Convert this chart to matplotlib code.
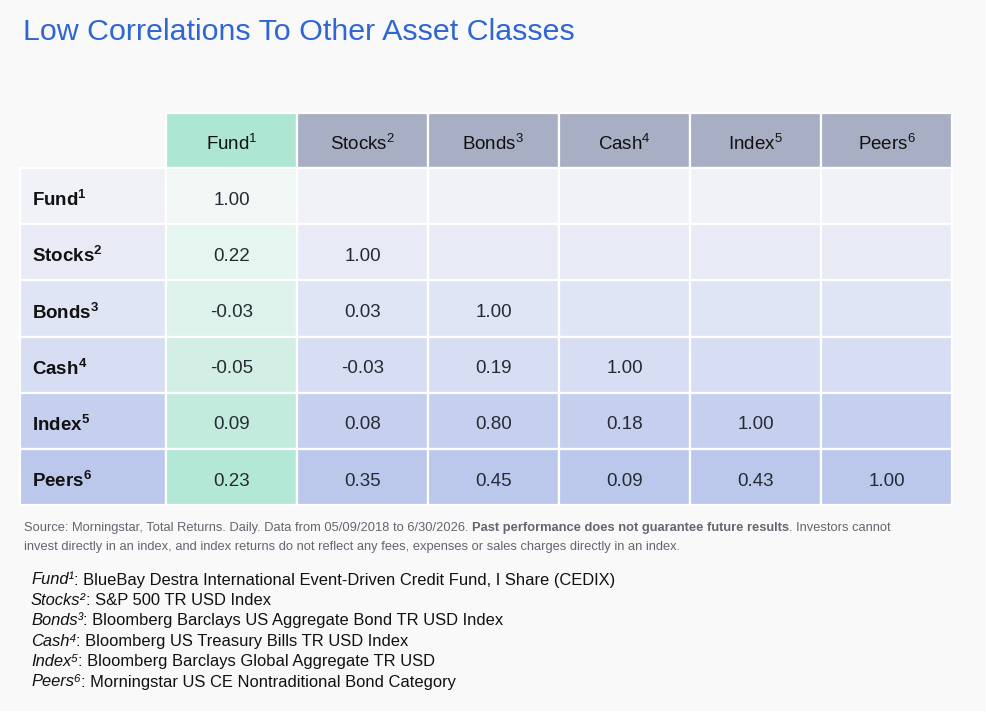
import matplotlib
matplotlib.use("Agg")
import matplotlib.pyplot as plt
from matplotlib.patches import Rectangle

plt.rcParams['font.family'] = ['Liberation Sans', 'DejaVu Sans']
plt.rcParams['mathtext.fontset'] = 'custom'
plt.rcParams['mathtext.rm'] = 'Liberation Sans'
plt.rcParams['mathtext.bf'] = 'Liberation Sans:bold'
plt.rcParams['mathtext.it'] = 'Liberation Sans:italic'

title = "Low Correlations To Other Asset Classes"
assets = ["Fund", "Stocks", "Bonds", "Cash", "Index", "Peers"]
sups = ["1", "2", "3", "4", "5", "6"]
sups_uni = ["¹", "²", "³", "⁴", "⁵", "⁶"]

# lower triangle of the correlation matrix, row by row
corr = [
    [1.00],
    [0.22, 1.00],
    [-0.03, 0.03, 1.00],
    [-0.05, -0.03, 0.19, 1.00],
    [0.09, 0.08, 0.80, 0.18, 1.00],
    [0.23, 0.35, 0.45, 0.09, 0.43, 1.00],
]

descriptions = [
    "BlueBay Destra International Event-Driven Credit Fund, I Share (CEDIX)",
    "S&P 500 TR USD Index",
    "Bloomberg Barclays US Aggregate Bond TR USD Index",
    "Bloomberg US Treasury Bills TR USD Index",
    "Bloomberg Barclays Global Aggregate TR USD",
    "Morningstar US CE Nontraditional Bond Category",
]

source_parts = [
    ("Source: Morningstar, Total Returns. Daily. Data from 05/09/2018 to 6/30/2026. ", "normal"),
    ("Past performance does not guarantee future results", "bold"),
    (". Investors cannot", "normal"),
]
source_line2 = "invest directly in an index, and index returns do not reflect any fees, expenses or sales charges directly in an index."

# colours
bg = "#f9f9fa"
row_blue = ["#f1f2f8", "#e8ebf6", "#e0e5f5", "#d7ddf2", "#c5cfee", "#bbc8ec"]
row_green = ["#f0f7f4", "#e5f5ef", "#dcf2ea", "#d3efe5", "#c2ebdd", "#b3e8d6"]
head_green = "#ade6d3"
head_grey = "#a8aec3"

W, H = 986, 711
fig = plt.figure(figsize=(W / 100, H / 100), dpi=100)
fig.patch.set_facecolor(bg)
ax = fig.add_axes([0, 0, 1, 1])
ax.set_xlim(0, W)
ax.set_ylim(H, 0)
ax.axis("off")

ax.text(23, 32, title, fontsize=21.9, color="#2f66d4", va="center", ha="left")

# table geometry
x_label = 20
label_w = 146
col_w = 131
y_head = 113
head_h = 55
row_h = 56.2
n = len(assets)

def col_x(j):
    return x_label + label_w + j * col_w

# header
for j in range(n):
    c = head_green if j == 0 else head_grey
    ax.add_patch(Rectangle((col_x(j), y_head), col_w, head_h, facecolor=c,
                           edgecolor="white", linewidth=1.6))
    ax.text(col_x(j) + col_w / 2, y_head + head_h / 2 + 1.5,
            assets[j] + r"$^{\mathrm{" + sups[j] + "}}$",
            fontsize=13.5, color="#111111", ha="center", va="center_baseline")

# body
for i in range(n):
    y0 = y_head + head_h + i * row_h
    ax.add_patch(Rectangle((x_label, y0), label_w, row_h, facecolor=row_blue[i],
                           edgecolor="white", linewidth=1.6))
    ax.text(x_label + 12, y0 + row_h / 2 + 2, assets[i] + r"$^{\mathbf{" + sups[i] + "}}$",
            fontsize=13.5, fontweight="bold", color="#111111", ha="left",
            va="center_baseline")
    for j in range(n):
        c = row_green[i] if j == 0 else row_blue[i]
        ax.add_patch(Rectangle((col_x(j), y0), col_w, row_h, facecolor=c,
                               edgecolor="white", linewidth=1.6))
        if j < len(corr[i]):
            ax.text(col_x(j) + col_w / 2, y0 + row_h / 2 + 2, f"{corr[i][j]:.2f}",
                    fontsize=13.5, color="#262a33", ha="center", va="center_baseline")

# source note
fig.canvas.draw()
r = fig.canvas.get_renderer()
inv = ax.transData.inverted()
x = 24
for txt, wt in source_parts:
    t = ax.text(x, 528, txt, fontsize=9.3, fontweight=wt, color="#62666e",
                ha="left", va="center")
    bb = t.get_window_extent(renderer=r)
    x = inv.transform((bb.x1, bb.y0))[0]
ax.text(24, 547, source_line2, fontsize=9.3, color="#62666e", ha="left", va="center")

# footnote definitions
for i in range(n):
    y = 580 + i * 20.4
    t = ax.text(31, y, assets[i] + sups_uni[i], fontsize=11.9, style="italic",
                color="#111111", ha="left", va="center")
    bb = t.get_window_extent(renderer=r)
    x = inv.transform((bb.x1, bb.y0))[0]
    ax.text(x, y, ": " + descriptions[i], fontsize=11.9, color="#111111",
            ha="left", va="center")

fig.savefig("out.png", dpi=100, facecolor=bg)
